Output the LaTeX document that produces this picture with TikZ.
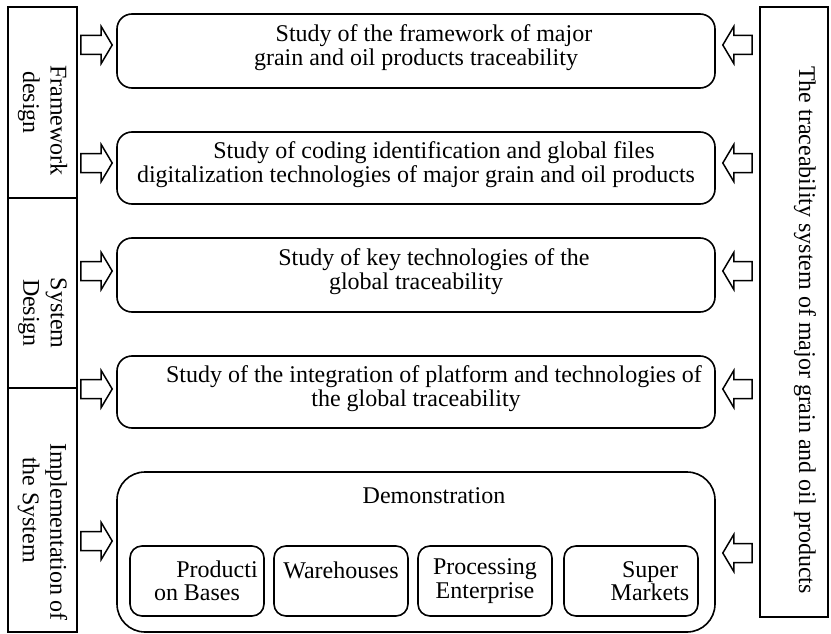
\documentclass[tikz,border=0pt]{standalone}
\usepackage{fontspec}
\setmainfont{Liberation Serif}
\usetikzlibrary{positioning, calc}
\newcommand{\diagfont}{\fontsize{24}{23.5}\selectfont}
\newcommand{\stagefont}{\fontsize{24}{27.5}\selectfont}
\tikzset{
    stagebox/.style={
        rectangle, draw=black, line width=1.6pt, rotate=-90, minimum height=69pt,
        inner sep=2pt, align=center, font=\stagefont
    },
    studybox/.style={
        rectangle, rounded corners=15pt, draw=black, line width=1.6pt, minimum width=598pt,
        inner sep=2pt, align=center, font=\diagfont, text depth=12pt
    },
    sitebox/.style={
        rectangle, rounded corners=12pt, draw=black, line width=1.6pt, minimum width=134pt,
        minimum height=70pt, inner sep=2pt, align=center, font=\diagfont
    },
    fatarrow/.style={
        draw=black, line width=1.5pt, line join=miter,
        to path={let \p1=(\tikztostart), \p2=(\tikztotarget), \n1={sign(\x2-\x1)},
            \p3=({\x2-(\n1)*11pt},\y1) in
            (\x1,{\y1+9.5pt}) -- (\x3,{\y1+9.5pt}) -- (\x3,{\y1+18.5pt}) -- (\x2,\y1)
            -- (\x3,{\y1-18.5pt}) -- (\x3,{\y1-9.5pt}) -- (\x1,{\y1-9.5pt}) -- cycle}
    }
}

\begin{document}
\begin{tikzpicture}[x=1pt, y=-1pt]
\useasboundingbox (0,0) rectangle (831,634);

% === STAGES (LEFT) ===
\node (fw)   [stagebox, minimum width=191pt] at (42.5,102.5) {\hspace*{36pt}Framework\\design};
\node (sd)   [stagebox, minimum width=190pt] at (42.5,293)   {\hspace*{40pt}System\\\hspace*{40pt}Design};
\node (impl) [stagebox, minimum width=244pt] at (42.5,510)   {\hspace*{44pt}Implementation of\\the System};

% === SYSTEM (RIGHT) ===
\node (trace) [stagebox, minimum width=610pt, minimum height=68pt, text height=16pt, text depth=26pt] at (794,312)
    {\hspace*{36pt}The traceability system of major grain and oil products};

% === STUDIES ===
\node (s1) [studybox, minimum height=74pt] at (416,51)  {\hspace*{36pt}Study of the framework of major\\grain and oil products traceability};
\node (s2) [studybox, minimum height=72pt] at (416,168) {\hspace*{36pt}Study of coding identification and global files\\digitalization technologies of major grain and oil products};
\node (s3) [studybox, minimum height=74pt] at (416,275) {\hspace*{36pt}Study of key technologies of the\\global traceability};
\node (s4) [studybox, minimum height=72pt] at (416,392) {\hspace*{36pt}Study of the integration of platform and technologies of\\the global traceability};

% === DEMONSTRATION ===
\node (demo) [studybox, rounded corners=28pt, minimum height=160pt] at (416,552) {};
\node (demotitle) [anchor=base, font=\diagfont] at ($(demo.north)+(0,-32pt)$) {\hspace*{36pt}Demonstration};
\node (prod) [sitebox] at (197,581) {\hspace*{40pt}Producti\\on Bases};
\node (ware) [sitebox, text height=16pt, text depth=21pt] at (341,581) {Warehouses};
\node (proc) [sitebox] at (485,581) {Processing\\Enterprise};
\node (mark) [sitebox] at (631,581) {\hspace*{38pt}Super\\\hspace*{38pt}Markets};

% === LEFT ARROWS ===
\draw [fatarrow] ($(fw.north |- s1.west)+(3pt,6pt)$)    to ($(s1.west)+(-4pt,6pt)$);
\draw [fatarrow] ($(fw.north |- s2.west)+(3pt,5pt)$)    to ($(s2.west)+(-4pt,5pt)$);
\draw [fatarrow] ($(sd.north |- s3.west)+(3pt,4pt)$)    to ($(s3.west)+(-4pt,4pt)$);
\draw [fatarrow] ($(sd.north |- s4.west)+(3pt,3pt)$)    to ($(s4.west)+(-4pt,3pt)$);
\draw [fatarrow] ($(impl.north |- demo.west)+(3pt,11pt)$) to ($(demo.west)+(-4pt,11pt)$);

% === RIGHT ARROWS ===
\draw [fatarrow] ($(trace.south |- s1.east)+(-7pt,6pt)$)   to ($(s1.east)+(7pt,6pt)$);
\draw [fatarrow] ($(trace.south |- s2.east)+(-7pt,5pt)$)   to ($(s2.east)+(7pt,5pt)$);
\draw [fatarrow] ($(trace.south |- s3.east)+(-7pt,4pt)$)   to ($(s3.east)+(7pt,4pt)$);
\draw [fatarrow] ($(trace.south |- s4.east)+(-7pt,3pt)$)   to ($(s4.east)+(7pt,3pt)$);
\draw [fatarrow] ($(trace.south |- demo.east)+(-7pt,-1pt)$) to ($(demo.east)+(7pt,-1pt)$);

\end{tikzpicture}
\end{document}
